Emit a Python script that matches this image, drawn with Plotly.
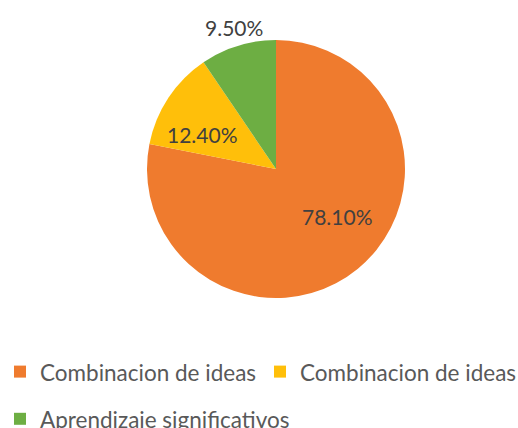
import math
import plotly.graph_objects as go

labels = ["Combinacion de ideas", "Combinacion de ideas\u200b", "Aprendizaje significativos"]
values = [78.1, 12.4, 9.5]
text_labels = ["78.10%", "12.40%", "9.50%"]
colors = ["#EF7B2E", "#FFBF0A", "#6DAE43"]

# layout / style
W, H = 518, 428
CX, CY, R = 276, 169, 129          # pie centre and radius in pixels
label_r = [0.60, 0.625, 1.145]      # label distance as fraction of radius
label_shift = [-13.0, -8.5, 0.5]    # label angle shift (deg) from slice middle
LEG_TEXT = 22.5
LEG_ROW = 34                         # sets legend row height (~45 px)

legend_labels = [
    f'<span style="font-size:{LEG_TEXT}px;baseline-shift:4.5px">{l}</span>' for l in labels
]

fig = go.Figure(go.Pie(
    labels=legend_labels,
    values=values,
    textinfo="none",
    sort=False,
    direction="clockwise",
    rotation=0,
    marker=dict(colors=colors, line=dict(width=0)),
    hoverinfo="skip",
    domain=dict(x=[(CX - R) / W, (CX + R) / W], y=[1 - (CY + R) / H, 1 - (CY - R) / H]),
))

total = sum(values)
cum = 0.0
annotations = []
for v, t, rf, sh in zip(values, text_labels, label_r, label_shift):
    mid = (cum + v / 2) / total * 360.0 + sh
    cum += v
    a = math.radians(mid)
    px = CX + rf * R * math.sin(a)
    py = CY - rf * R * math.cos(a)
    annotations.append(dict(
        x=px / W, y=1 - py / H, xref="paper", yref="paper",
        text=t, showarrow=False, xanchor="center", yanchor="middle",
        font=dict(family="Lato", size=21, color="#404040"),
    ))

fig.update_layout(
    width=W, height=H,
    margin=dict(l=0, r=0, t=0, b=0, autoexpand=False),
    paper_bgcolor="white",
    plot_bgcolor="white",
    showlegend=True,
    annotations=annotations,
    legend=dict(
        orientation="h",
        x=0.0, xanchor="left",
        y=1 - 343 / H, yanchor="top",
        font=dict(family="Lato", size=LEG_ROW, color="#595959"),
        entrywidth=215, entrywidthmode="pixels",
        itemclick=False, itemdoubleclick=False,
    ),
)

fig.write_html("out.html")
